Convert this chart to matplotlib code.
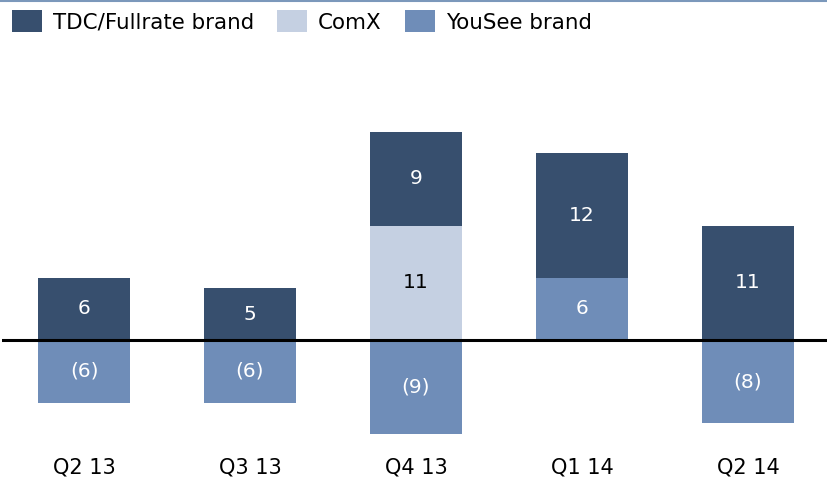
import numpy as np
import matplotlib.pyplot as plt

quarters = ['Q2 13', 'Q3 13', 'Q4 13', 'Q1 14', 'Q2 14']
tdc = [6, 5, 9, 12, 11]
comx = [0, 0, 11, 0, 0]
yousee = [-6, -6, -9, 6, -8]

c_tdc = '#374f6e'
c_comx = '#c5d0e2'
c_yousee = '#6f8db8'

plt.rcParams['font.family'] = ['DejaVu Sans']

fig = plt.figure(figsize=(8.27, 4.78), dpi=100)
ax = fig.add_axes([2/827, 1 - 440/478, 825/827, 380/478])

x = np.arange(len(quarters))
w = 0.554

tdc = np.array(tdc)
comx = np.array(comx)
yousee = np.array(yousee)
ys_pos = np.where(yousee > 0, yousee, 0)
ys_neg = np.where(yousee < 0, yousee, 0)

ax.bar(x, ys_pos, w, color=c_yousee, label='YouSee brand')
ax.bar(x, ys_neg, w, color=c_yousee)
ax.bar(x, comx, w, bottom=ys_pos, color=c_comx, label='ComX')
ax.bar(x, tdc, w, bottom=ys_pos + comx, color=c_tdc, label='TDC/Fullrate brand')

fs = 14.5
for i in range(len(x)):
    if ys_pos[i] > 0:
        ax.text(x[i], ys_pos[i] / 2, str(ys_pos[i]), ha='center', va='center', color='white', fontsize=fs)
    if ys_neg[i] < 0:
        ax.text(x[i], ys_neg[i] / 2, '(%d)' % -ys_neg[i], ha='center', va='center', color='white', fontsize=fs)
    if comx[i] > 0:
        ax.text(x[i], ys_pos[i] + comx[i] / 2, str(comx[i]), ha='center', va='center', color='black', fontsize=fs)
    ax.text(x[i], ys_pos[i] + comx[i] + tdc[i] / 2, str(tdc[i]), ha='center', va='center', color='white', fontsize=fs)
    ax.text(x[i], -12.2, quarters[i], ha='center', va='center', color='black', fontsize=15)

ax.axhline(0, color='black', lw=2.2)
ax.set_xlim(-0.494, 4.476)
ax.set_ylim(-9.6, 26.9)
ax.axis('off')

# top rule
fig.add_artist(plt.Line2D([0, 1], [1 - 1/478, 1 - 1/478], color='#7b98bb', lw=1.5, transform=fig.transFigure))

h, l = ax.get_legend_handles_labels()
order = [2, 1, 0]
fig.legend([h[k] for k in order], [l[k] for k in order], loc='center left',
           bbox_to_anchor=(12/827, 1 - 21.5/478), ncol=3, frameon=False, fontsize=15.4,
           handlelength=1.4, handleheight=1.2, handletextpad=0.5, columnspacing=1.1,
           borderpad=0, borderaxespad=0)

fig.savefig('out.png', dpi=100)
